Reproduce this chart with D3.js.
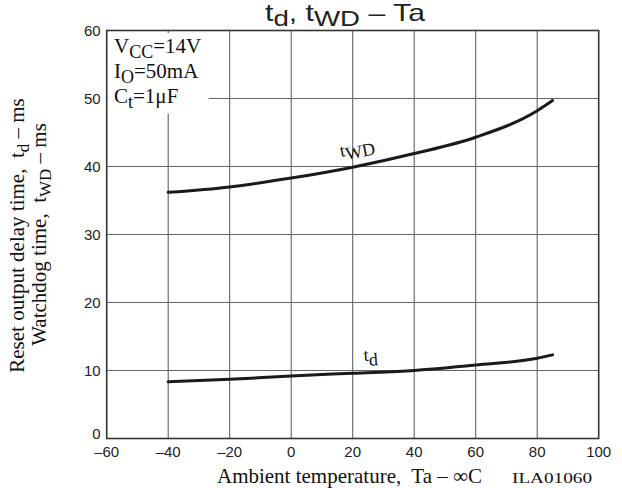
<!DOCTYPE html>
<html>
<head>
<meta charset="utf-8">
<script src="https://cdn.jsdelivr.net/npm/d3@7"></script>
<style>
  body { margin: 0; background: #fff; }
  text { white-space: pre; }
</style>
</head>
<body>
<svg id="chart"></svg>
<script>
var width = 622;
var height = 488;

// readings
var temps = [-40, -20, 0, 20, 40, 60, 80, 85];
var tWD = [36.2, 37.0, 38.3, 39.9, 41.9, 44.3, 48.2, 49.7];
var tD = [8.35, 8.7, 9.2, 9.6, 10.0, 10.8, 11.8, 12.3];
var xTicks = [-60, -40, -20, 0, 20, 40, 60, 80, 100];
var yTicks = [0, 10, 20, 30, 40, 50, 60];

var plotLeft = 106.7, plotRight = 598.7, plotTop = 30.5, plotBottom = 438.5;

var svg = d3.select("#chart")
    .attr("width", width)
    .attr("height", height);

var x = d3.scaleLinear().domain([-60, 100]).range([plotLeft, plotRight]);
var y = d3.scaleLinear().domain([0, 60]).range([plotBottom, plotTop]);

// grid
var grid = svg.append("g");
grid.selectAll("line.v")
    .data(xTicks.slice(1, -1))
    .join("line")
        .attr("class", "v")
        .attr("x1", d => x(d)).attr("x2", d => x(d))
        .attr("y1", plotTop).attr("y2", plotBottom)
        .attr("stroke", "#555")
        .attr("stroke-width", 1);
grid.selectAll("line.h")
    .data(yTicks.slice(1, -1))
    .join("line")
        .attr("class", "h")
        .attr("y1", d => y(d)).attr("y2", d => y(d))
        .attr("x1", plotLeft).attr("x2", plotRight)
        .attr("stroke", "#666")
        .attr("stroke-width", 1);

// white box behind the conditions text
svg.append("rect")
    .attr("x", plotLeft + 1).attr("y", plotTop + 3)
    .attr("width", 101).attr("height", 80)
    .attr("fill", "#fff");

svg.append("rect")
    .attr("x", plotLeft).attr("y", plotTop)
    .attr("width", plotRight - plotLeft).attr("height", plotBottom - plotTop)
    .attr("fill", "none")
    .attr("stroke", "#333")
    .attr("stroke-width", 1.6);

var serif = "Liberation Serif, Times New Roman, serif";
var sans = "Liberation Sans, Arial, sans-serif";

// tick labels
svg.append("g")
    .selectAll("text")
    .data(xTicks)
    .join("text")
        .attr("x", d => x(d))
        .attr("y", 457)
        .attr("text-anchor", "middle")
        .style("font-family", sans)
        .style("font-size", "15px")
        .attr("fill", "#222")
        .text(d => d < 0 ? "\u2013" + Math.abs(d) : d);

svg.append("g")
    .selectAll("text")
    .data(yTicks)
    .join("text")
        .attr("x", plotLeft - 6)
        .attr("y", d => d === 0 ? y(d) - 5 : y(d))
        .attr("dy", "0.36em")
        .attr("text-anchor", "end")
        .style("font-family", sans)
        .style("font-size", "15px")
        .attr("fill", "#222")
        .text(d => d);

// curves
var line = d3.line()
    .x((d, i) => x(temps[i]))
    .y(d => y(d))
    .curve(d3.curveMonotoneX);

[tWD, tD].forEach(function(series) {
    svg.append("path")
        .datum(series)
        .attr("d", line)
        .attr("fill", "none")
        .attr("stroke", "#1a1a1a")
        .attr("stroke-width", 3)
        .attr("stroke-linecap", "round");
});

function subText(g, parts, size) {
    var t = g.append("text")
        .style("font-size", size + "px")
        .attr("fill", "#111");
    parts.forEach(function(p) {
        var span = t.append("tspan").text(p[0]);
        if (p[1]) span.attr("dy", p[1]);
        if (p[2]) span.style("font-size", p[2] + "px");
    });
    return t;
}

// title
subText(svg, [["t"], ["d", 5, 22], [", t", -5], ["WD", 5, 22], [" \u2013 Ta", -5]], 24)
    .attr("x", 265).attr("y", 21)
    .attr("textLength", 160)
    .attr("lengthAdjust", "spacingAndGlyphs")
    .attr("fill", "#222")
    .style("font-family", sans);

// conditions
var cond = [
    [["V"], ["CC", 5, 18], ["=14V", -5]],
    [["I"], ["O", 5, 18], ["=50mA", -5]],
    [["C"], ["t", 5, 18], ["=1\u03bcF", -5]]
];
cond.forEach(function(parts, i) {
    subText(svg, parts, 21)
        .attr("x", 114).attr("y", 53 + i * 25)
        .style("font-family", serif);
});

// curve labels
subText(svg, [["t"], ["WD", 4, 18]], 18)
    .attr("transform", "translate(341,157) rotate(-11)")
    .style("font-family", serif);
subText(svg, [["t"], ["d", 5, 18]], 18)
    .attr("transform", "translate(364,361) rotate(-4)")
    .style("font-family", serif);

// axis titles
svg.append("text")
    .attr("x", (217 + 482) / 2).attr("y", 483)
    .attr("text-anchor", "middle")
    .style("font-family", serif)
    .style("font-size", "21px")
    .attr("fill", "#111")
    .text("Ambient temperature,  Ta \u2013 \u221eC");

svg.append("text")
    .attr("x", 512).attr("y", 483)
    .attr("textLength", 80)
    .attr("lengthAdjust", "spacingAndGlyphs")
    .style("font-family", serif)
    .style("font-size", "15px")
    .attr("fill", "#111")
    .text("ILA01060");

var yc = (plotTop + plotBottom) / 2;
subText(svg, [["Reset output delay time,  t"], ["d", 5, 17], [" \u2013 ms", -5]], 21)
    .attr("transform", "translate(24," + (yc + 1) + ") rotate(-90)")
    .attr("text-anchor", "middle")
    .style("font-family", serif);
subText(svg, [["Watchdog time,  t"], ["WD", 5, 17], [" \u2013 ms", -5]], 21)
    .attr("transform", "translate(46," + yc + ") rotate(-90)")
    .attr("text-anchor", "middle")
    .style("font-family", serif);
</script>
</body>
</html>
